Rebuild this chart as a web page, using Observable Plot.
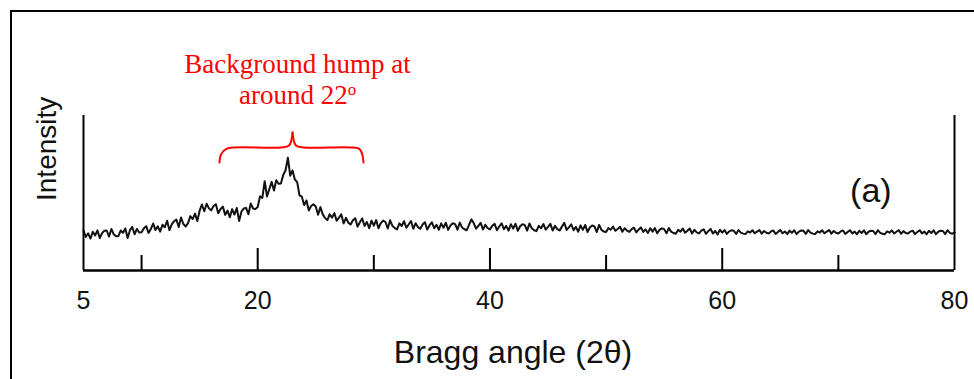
<!DOCTYPE html>
<html>
<head>
<meta charset="utf-8">
<script src="https://cdn.jsdelivr.net/npm/d3@7"></script>
<script src="https://cdn.jsdelivr.net/npm/@observablehq/plot@0.6"></script>
<style>
  html, body { margin: 0; padding: 0; background: #fff; overflow: hidden; }
  #wrap { position: relative; width: 974px; height: 379px; overflow: hidden; }
  #border { position: absolute; left: 10px; top: 10px; width: 1000px; height: 420px; border: 2px solid #000; box-sizing: border-box; }
  #chart { position: absolute; left: 0; top: 0; }
</style>
</head>
<body>
<div id="wrap"><div id="border"></div><div id="chart"></div></div>
<script>
// X-ray diffraction pattern, intensity (step 0.2° from 5° to 80°)
const angleStart = 5;
const angleStep = 0.2;
const intensity = [
  25.8, 21.6, 24.0, 20.6, 25.0,   // 5
  22.6, 25.9, 21.0, 24.1, 25.7,   // 6
  25.8, 21.9, 26.8, 23.4, 22.1,   // 7
  22.2, 25.8, 24.3, 27.1, 21.0,   // 8
  26.0, 28.1, 23.4, 26.8, 24.5,   // 9
  24.7, 27.3, 28.6, 24.2, 26.8,   // 10
  30.3, 26.1, 28.5, 25.1, 29.5,   // 11
  27.9, 32.1, 26.0, 29.8, 31.8,   // 12
  32.9, 28.1, 34.2, 30.0, 28.4,   // 13
  30.6, 35.1, 33.2, 36.7, 31.9,   // 14
  38.6, 42.6, 38.2, 43.1, 40.2,   // 15
  38.8, 41.6, 42.8, 36.9, 39.7,   // 16
  41.2, 35.9, 38.6, 34.3, 39.6,   // 17
  36.1, 40.3, 32.0, 38.0, 40.0,   // 18
  40.4, 36.3, 43.2, 40.0, 39.6,   // 19
  41.0, 47.9, 46.8, 57.6, 47.8,   // 20
  52.4, 57.2, 51.6, 58.2, 56.0,   // 21
  56.2, 61.7, 64.7, 72.8, 61.2,   // 22
  64.5, 58.7, 57.0, 48.5, 47.6,   // 23
  42.3, 45.2, 38.7, 41.6, 42.7,   // 24
  41.3, 36.0, 40.9, 36.2, 33.9,   // 25
  32.5, 36.3, 34.1, 37.0, 32.1,   // 26
  34.1, 36.2, 30.4, 34.0, 30.9,   // 27
  29.7, 32.4, 33.7, 28.3, 31.1,   // 28
  33.6, 28.7, 31.3, 27.3, 32.2,   // 29
  28.9, 32.5, 27.2, 30.6, 32.2,   // 30
  31.3, 27.1, 32.4, 28.8, 27.4,   // 31
  26.5, 30.4, 28.7, 31.8, 27.6,   // 32
  29.7, 31.9, 26.9, 30.5, 28.0,   // 33
  26.9, 29.7, 31.1, 26.4, 29.2,   // 34
  31.1, 27.3, 29.4, 26.3, 30.4,   // 35
  27.6, 30.8, 26.2, 29.1, 30.5,   // 36
  29.9, 26.3, 30.9, 27.8, 26.6,   // 37
  26.0, 29.4, 33.0, 30.6, 27.0,   // 38
  28.8, 30.7, 26.4, 29.5, 27.3,   // 39
  26.5, 28.9, 30.1, 26.0, 28.4,   // 40
  30.5, 26.7, 28.8, 25.7, 29.8,   // 41
  27.0, 30.2, 25.6, 28.5, 29.9,   // 42
  29.3, 25.7, 30.3, 27.2, 26.0,   // 43
  25.4, 28.8, 27.3, 30.0, 26.4,   // 44
  28.2, 30.1, 25.8, 28.9, 26.7,   // 45
  25.9, 28.3, 30.8, 26.2, 27.8,   // 46
  29.8, 26.0, 28.1, 25.0, 29.1,   // 47
  26.2, 29.4, 24.8, 27.7, 29.1,   // 48
  28.4, 24.8, 29.4, 26.3, 25.1,   // 49
  24.9, 27.4, 26.3, 28.3, 25.6,   // 50
  26.8, 28.2, 25.0, 27.3, 25.7,   // 51
  24.9, 26.7, 27.6, 24.6, 26.4,   // 52
  27.8, 24.9, 26.5, 24.2, 27.3,   // 53
  25.1, 27.4, 24.0, 26.2, 27.2,   // 54
  26.7, 24.0, 27.4, 25.1, 24.2,   // 55
  23.7, 26.2, 25.1, 27.1, 24.4,   // 56
  25.7, 27.1, 23.9, 26.2, 24.6,   // 57
  23.9, 25.7, 26.6, 23.6, 25.4,   // 58
  26.8, 23.9, 25.5, 23.2, 26.3,   // 59
  24.4, 26.1, 23.6, 25.2, 25.9,   // 60
  25.6, 23.6, 26.1, 24.4, 23.8,   // 61
  23.5, 25.3, 24.5, 26.0, 24.0,   // 62
  25.1, 26.1, 23.8, 25.5, 24.3,   // 63
  23.9, 25.2, 25.8, 23.6, 24.9,   // 64
  26.1, 24.0, 25.2, 23.5, 25.7,   // 65
  24.3, 26.0, 23.5, 25.1, 25.8,   // 66
  25.6, 23.6, 26.1, 24.4, 23.8,   // 67
  23.5, 25.3, 24.5, 26.0, 24.0,   // 68
  25.1, 26.1, 23.8, 25.5, 24.3,   // 69
  23.9, 25.2, 25.8, 23.6, 24.9,   // 70
  26.0, 23.9, 25.1, 23.4, 25.6,   // 71
  24.2, 25.9, 23.4, 25.0, 25.7,   // 72
  25.5, 23.5, 26.0, 24.3, 23.7,   // 73
  23.4, 25.2, 24.4, 25.9, 23.9,   // 74
  25.0, 26.0, 23.7, 25.4, 24.2,   // 75
  23.8, 25.1, 25.7, 23.5, 24.8,   // 76
  26.0, 23.9, 25.1, 23.4, 25.6,   // 77
  24.2, 25.9, 23.4, 25.0, 25.7,   // 78
  25.5, 23.5, 26.0, 24.3, 23.7,   // 79
  24.7                            // 80
];

// Axis ticks
const tickLabels = [5, 20, 40, 60, 80];
const majorTicks = [20, 40, 60];
const minorTicks = [10, 30, 50, 70];
const axisEnds = [5, 80];

// Texts
const xLabel = "Bragg angle (2θ)";
const yLabel = "Intensity";
const panelLabel = "(a)";
const panelLabelPos = {angle: 72.8, intensity: 43.9};
const noteLine1 = "Background hump at";
const noteLine2 = "around 22";
const noteSup = "o";
const notePos = {angle: 23.43, line1: 127.1, line2: 107.7};

// Brace above the hump (angle, intensity units)
const braceAngles =      [16.71, 16.85, 17.3, 18.1, 22.0, 22.7, 23.0,   23.0, 23.3, 24.0, 28.0, 28.75, 29.0, 29.11];
const braceIntensities = [69.7,  75.0,  78.5, 79.4, 79.4, 80.6, 89.0,   89.0, 80.6, 79.4, 79.4, 78.5,  75.0, 69.7];
const braceSides =       ["L","L","L","L","L","L","L",                  "R","R","R","R","R","R","R"];

const data = intensity.map((v, i) => ({angle: angleStart + i * angleStep, intensity: v}));
const brace = braceAngles.map((a, i) => ({angle: a, intensity: braceIntensities[i], side: braceSides[i]}));

const red = "#ff0000";
const sans = "'Liberation Sans', Arial, Helvetica, sans-serif";
const serif = "'Liberation Serif', 'Times New Roman', Times, serif";

const chart = Plot.plot({
  width: 974,
  height: 379,
  marginLeft: 83,
  marginRight: 20,
  marginTop: 115,
  marginBottom: 109,
  x: {domain: [5, 80], axis: null},
  y: {domain: [0, 100], axis: null},
  style: {fontFamily: sans, background: "transparent", color: "#000", overflow: "visible"},
  marks: [
    Plot.line(data, {x: "angle", y: "intensity", stroke: "#111", strokeWidth: 2, strokeLinejoin: "round"}),
    Plot.ruleX(axisEnds, {stroke: "#000", strokeWidth: 2}),
    Plot.ruleY([0], {stroke: "#000", strokeWidth: 2.5}),
    Plot.tickX(majorTicks, {x: d => d, insetTop: 133, stroke: "#000", strokeWidth: 2}),
    Plot.tickX(minorTicks, {x: d => d, insetTop: 140, stroke: "#000", strokeWidth: 2}),
    Plot.axisX(tickLabels, {tickSize: 0, tickPadding: 21, fontSize: 25, label: null, fill: "#111"}),
    Plot.text([xLabel], {frameAnchor: "bottom", lineAnchor: "bottom", dy: 92, dx: -6, fontSize: 32, fill: "#111"}),
    Plot.text([yLabel], {frameAnchor: "left", lineAnchor: "bottom", rotate: -90, dx: -28, dy: 8, fontSize: 28, fill: "#111"}),
    Plot.text([panelLabel], {x: () => panelLabelPos.angle, y: () => panelLabelPos.intensity, lineAnchor: "bottom", fontSize: 34, fill: "#111"}),
    Plot.line(brace, {x: "angle", y: "intensity", z: "side", stroke: red, strokeWidth: 2, curve: "catmull-rom"}),
    Plot.text([noteLine1], {x: () => notePos.angle, y: () => notePos.line1, lineAnchor: "bottom", fontSize: 27, fontFamily: serif, fill: red}),
    Plot.text([noteLine2], {x: () => notePos.angle, y: () => notePos.line2, lineAnchor: "bottom", fontSize: 27, fontFamily: serif, fill: red})
  ]
});

// superscript "o" after "around 22"
d3.select(chart).selectAll("text")
  .filter(function() { return this.textContent === noteLine2; })
  .append("tspan").attr("dy", "-0.5em").attr("font-size", "17px").text(noteSup);

document.getElementById("chart").appendChild(chart);
</script>
</body>
</html>
